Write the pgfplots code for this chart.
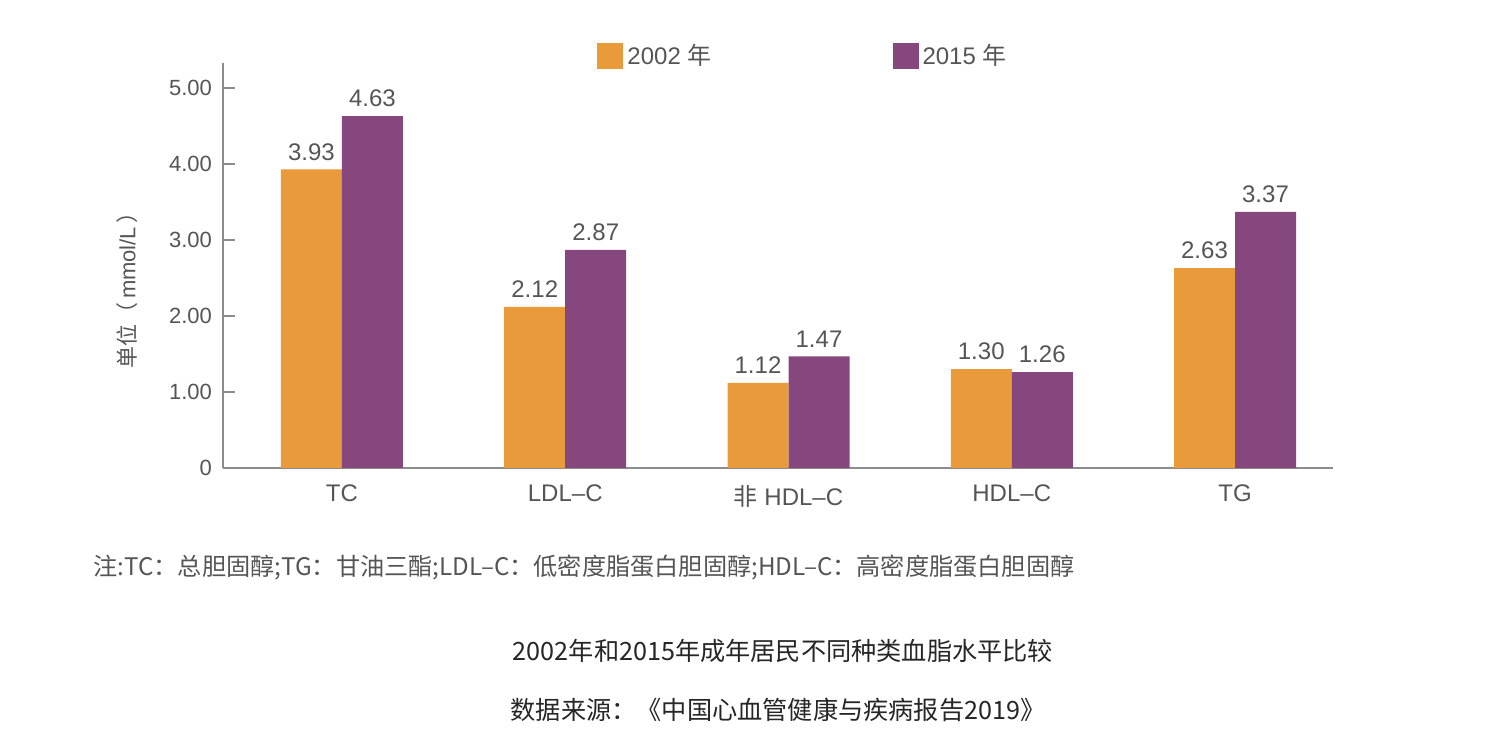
\documentclass[border=0pt]{standalone}
\usepackage{fontspec}
\setmainfont{Liberation Sans}
\newfontfamily\cjk{Noto Sans CJK SC}
\usepackage{pgfplots}
\pgfplotsset{compat=1.18}
\definecolor{orange02}{HTML}{E99A3B}
\definecolor{purple15}{HTML}{85477E}
\definecolor{axisgray}{HTML}{8C8C8C}
\definecolor{txtgray}{HTML}{555555}

\begin{document}
\begin{tikzpicture}
\useasboundingbox (0,0) rectangle (750pt,376.5pt);
\begin{axis}[
  at={(111.5pt,142.5pt)}, anchor=south west,
  scale only axis, width=555pt, height=202.5pt,
  xmin=-0.533, xmax=4.439, ymin=0, ymax=5.33,
  enlargelimits=false, clip=false,
  axis lines*=left,
  axis line style={axisgray, line width=1.2pt},
  ybar=0pt, bar width=30.5pt,
  xtick={0,1,2,3,4},
  xticklabels={TC, LDL--C, {\cjk 非} HDL--C, HDL--C, TG},
  x tick style={draw=none},
  ytick={0,1,2,3,4,5},
  yticklabels={0,1.00,2.00,3.00,4.00,5.00},
  ytick pos=left, tick align=inside, major tick length=6pt,
  y tick style={axisgray, line width=1.2pt},
  tick label style={font=\fontsize{11}{13}\selectfont, text=txtgray},
  x tick label style={yshift=-5pt, font=\fontsize{12}{14}\selectfont},
  y tick label style={xshift=-2pt},
  ylabel={{\cjk 单位（}\,mmol/L\,{\cjk ）}},
  y label style={at={(axis description cs:-0.0865,0.452)}, anchor=center,
    font=\fontsize{11}{13}\selectfont, text=txtgray},
  /pgf/number format/assume math mode=true,
  nodes near coords={\pgfmathprintnumber[fixed,fixed zerofill,precision=2]{\pgfplotspointmeta}},
  nodes near coords style={font=\fontsize{12}{14}\selectfont, text=txtgray, yshift=1pt},
  legend style={at={(0.337,1.017)}, anchor=west, draw=none, fill=none,
    inner sep=0pt, font=\fontsize{12}{14}\selectfont, text=txtgray,
    legend columns=2,
    /tikz/every even column/.append style={column sep=88.5pt}},
  legend image code/.code={\fill[#1] (0pt,-6.5pt) rectangle (13pt,6.5pt);},
]
\addplot[fill=orange02, draw=none] coordinates {(0,3.93) (1,2.12) (2,1.12) (3,1.30) (4,2.63)};
\addplot[fill=purple15, draw=none] coordinates {(0,4.63) (1,2.87) (2,1.47) (3,1.26) (4,3.37)};
\legend{2002 {\cjk 年}, 2015 {\cjk 年}}
\end{axis}
\node[anchor=west, inner sep=0pt, text=txtgray, font=\cjk\fontsize{12.1}{14}\selectfont] at (46.5pt,92.5pt)
  {注:TC：总胆固醇;TG：甘油三酯;LDL–C：低密度脂蛋白胆固醇;HDL–C：高密度脂蛋白胆固醇};
\node[text=black!85, font=\cjk\fontsize{12.6}{15}\selectfont] at (391.5pt,51pt)
  {2002年和2015年成年居民不同种类血脂水平比较};
\node[text=black!85, font=\cjk\fontsize{12.6}{15}\selectfont] at (389pt,21.5pt)
  {数据来源：《中国心血管健康与疾病报告2019》};
\end{tikzpicture}
\end{document}
